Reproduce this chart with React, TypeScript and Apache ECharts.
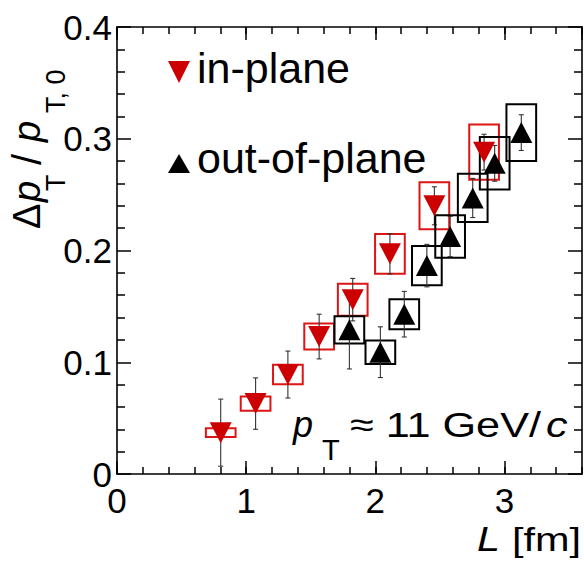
import React, { useEffect, useRef } from "react";
import * as echarts from "echarts";

// ---- data ----
const inPlaneL = [0.803, 1.073, 1.323, 1.565, 1.825, 2.113, 2.457, 2.842];
const inPlaneV = [0.037, 0.063, 0.089, 0.123, 0.156, 0.197, 0.24, 0.288];
const inPlaneStat = [0.03, 0.023, 0.021, 0.02, 0.019, 0.018, 0.017, 0.016];
const inPlaneSys = [0.004, 0.0063, 0.0087, 0.0116, 0.0143, 0.0178, 0.021, 0.0248];

const outPlaneL = [1.799, 2.039, 2.224, 2.399, 2.579, 2.754, 2.924, 3.13];
const outPlaneV = [0.129, 0.109, 0.143, 0.1865, 0.2125, 0.247, 0.278, 0.3055];
const outPlaneStat = [0.035, 0.0227, 0.0204, 0.019, 0.018, 0.0175, 0.016, 0.016];
const outPlaneSys = [0.0122, 0.0105, 0.0134, 0.0176, 0.019, 0.0216, 0.0235, 0.0253];

const sysHalfWidthL = 0.115; // horizontal half-width of systematic boxes (fm)

const xMajorTicks = { min: 0, max: 3.6, interval: 1 };
const xMinorInterval = 0.2;
const yTicks = { min: 0, max: 0.4, interval: 0.1 };

const legendLabels = ["in-plane", "out-of-plane"];

const FONT = "'Liberation Sans', Arial, Helvetica, sans-serif";
const RED = "#cc0000";
const RED_BOX = "#dd1515";
const BLACK = "#000000";

export default function App() {
  const ref = useRef<HTMLDivElement>(null);

  useEffect(() => {
    const chart = echarts.init(ref.current!, null, { renderer: "svg" });

    const axisLine = { show: true, onZero: false, lineStyle: { color: "#000", width: 1.6 } };
    const tickStyle = { color: "#000", width: 1.5 };

    const xAxisBase = (position: string, interval: number, len: number, labels: boolean, line: boolean) => ({
      type: "value",
      position,
      min: xMajorTicks.min,
      max: xMajorTicks.max,
      interval,
      axisLine: line ? axisLine : { show: false, onZero: false },
      axisTick: { show: true, inside: true, length: len, lineStyle: tickStyle },
      axisLabel: labels
        ? { show: true, fontSize: 35, fontFamily: FONT, color: "#000", margin: 9, showMaxLabel: false }
        : { show: false },
      splitLine: { show: false },
    });

    const yAxisBase = (position: string, labels: boolean) => ({
      type: "value",
      position,
      min: yTicks.min,
      max: yTicks.max,
      interval: yTicks.interval,
      axisLine,
      axisTick: { show: true, inside: true, length: 14, lineStyle: tickStyle },
      minorTick: { show: true, splitNumber: 5, length: 8, lineStyle: tickStyle },
      axisLabel: labels
        ? { show: true, fontSize: 35, fontFamily: FONT, color: "#000", margin: 5 }
        : { show: false },
      splitLine: { show: false },
      minorSplitLine: { show: false },
    });

    const boxSeries = (L: number[], V: number[], S: number[], color: string) => ({
      type: "custom",
      xAxisIndex: 0,
      yAxisIndex: 0,
      data: L.map((l, i) => [l, V[i], S[i]]),
      encode: { x: 0, y: 1 },
      renderItem: (_p: any, api: any) => {
        const l = api.value(0);
        const v = api.value(1);
        const s = api.value(2);
        const p1 = api.coord([l - sysHalfWidthL, v + s]);
        const p2 = api.coord([l + sysHalfWidthL, v - s]);
        return {
          type: "rect",
          shape: { x: p1[0], y: p1[1], width: p2[0] - p1[0], height: p2[1] - p1[1] },
          style: { fill: "none", stroke: color, lineWidth: 2 },
        };
      },
      z: 2,
    });

    const errSeries = (L: number[], V: number[], E: number[]) => ({
      type: "custom",
      xAxisIndex: 0,
      yAxisIndex: 0,
      data: L.map((l, i) => [l, V[i], E[i]]),
      encode: { x: 0, y: 1 },
      renderItem: (_p: any, api: any) => {
        const l = api.value(0);
        const v = api.value(1);
        const e = api.value(2);
        const lo = api.coord([l, v - e]);
        const hi = api.coord([l, v + e]);
        const st = { stroke: "#333", lineWidth: 1.1 };
        return {
          type: "group",
          children: [
            { type: "line", shape: { x1: lo[0], y1: lo[1], x2: hi[0], y2: hi[1] }, style: st },
            { type: "line", shape: { x1: lo[0] - 2.5, y1: lo[1], x2: lo[0] + 2.5, y2: lo[1] }, style: st },
            { type: "line", shape: { x1: hi[0] - 2.5, y1: hi[1], x2: hi[0] + 2.5, y2: hi[1] }, style: st },
          ],
        };
      },
      z: 2,
    });

    const txt = (
      text: string,
      x: number,
      y: number,
      size: number,
      opts: { italic?: boolean; align?: string; scaleX?: number } = {}
    ) => ({
      type: "text",
      x,
      y,
      scaleX: opts.scaleX ?? 1,
      style: {
        text,
        x: 0,
        y: 0,
        fontSize: size,
        fontFamily: FONT,
        fontStyle: opts.italic ? "italic" : "normal",
        fill: "#000",
        align: opts.align ?? "left",
        textAlign: opts.align ?? "left",
        verticalAlign: "middle",
        textVerticalAlign: "middle",
      },
    });
    // centre y for a given baseline and font size (SVG central baseline)
    const cy = (baseline: number, size: number) => baseline - 0.3465 * size;

    const option: any = {
      animation: false,
      backgroundColor: "#fff",
      grid: { left: 117, right: 2, top: 27, bottom: 88, containLabel: false },
      xAxis: [
        xAxisBase("bottom", xMajorTicks.interval, 13, true, true),
        xAxisBase("bottom", xMinorInterval, 7, false, false),
        xAxisBase("top", xMajorTicks.interval, 13, false, true),
        xAxisBase("top", xMinorInterval, 7, false, false),
      ],
      yAxis: [yAxisBase("left", true), yAxisBase("right", false)],
      series: [
        boxSeries(inPlaneL, inPlaneV, inPlaneSys, RED_BOX),
        errSeries(inPlaneL, inPlaneV, inPlaneStat),
        {
          type: "scatter",
          name: legendLabels[0],
          data: inPlaneL.map((l, i) => [l, inPlaneV[i]]),
          symbol: "triangle",
          symbolRotate: 180,
          symbolSize: [22, 21],
          itemStyle: { color: RED, opacity: 1 },
          z: 3,
        },
        boxSeries(outPlaneL, outPlaneV, outPlaneSys, "#000"),
        errSeries(outPlaneL, outPlaneV, outPlaneStat),
        {
          type: "scatter",
          name: legendLabels[1],
          data: outPlaneL.map((l, i) => [l, outPlaneV[i]]),
          symbol: "triangle",
          symbolSize: [22, 21],
          itemStyle: { color: BLACK, opacity: 1 },
          z: 3,
        },
      ],
      graphic: [
        // legend
        { type: "polygon", shape: { points: [[168, 61], [190, 61], [179, 83]] }, style: { fill: RED } },
        txt(legendLabels[0], 197, cy(83, 43), 43),
        { type: "polygon", shape: { points: [[168, 173], [190, 173], [179, 154]] }, style: { fill: BLACK } },
        txt(legendLabels[1], 197, cy(172.7, 43), 43),
        // pT annotation
        txt("p", 293, cy(437, 36), 36, { italic: true }),
        txt("T", 322, cy(460, 29), 29),
        txt("\u2248 11 GeV/", 350, cy(437, 36), 36, { scaleX: 1.2 }),
        txt("c", 546, cy(437, 36), 36, { italic: true, scaleX: 1.2 }),
        // x-axis title
        txt("L", 477, cy(551, 36), 36, { italic: true, scaleX: 1.15 }),
        txt("[fm]", 581, cy(551, 34), 34, { align: "right", scaleX: 1.22 }),
        // y-axis title (rotated)
        {
          type: "group",
          x: 40,
          y: 229,
          rotation: Math.PI / 2,
          children: [
            txt("\u0394", 0, cy(0, 38), 38),
            txt("p", 27, cy(0, 38), 38, { italic: true }),
            txt("T", 38, cy(25, 27), 27),
            txt("/", 64, cy(1, 40), 40),
            txt("p", 87, cy(0, 38), 38, { italic: true }),
            txt("T, 0", 116, cy(25, 27), 27),
          ],
        },
      ],
    };

    chart.setOption(option);
    return () => chart.dispose();
  }, []);

  return (
    <div
      ref={ref}
      style={{ position: "absolute", left: 0, top: 0, width: 584, height: 562, background: "#fff" }}
    />
  );
}
